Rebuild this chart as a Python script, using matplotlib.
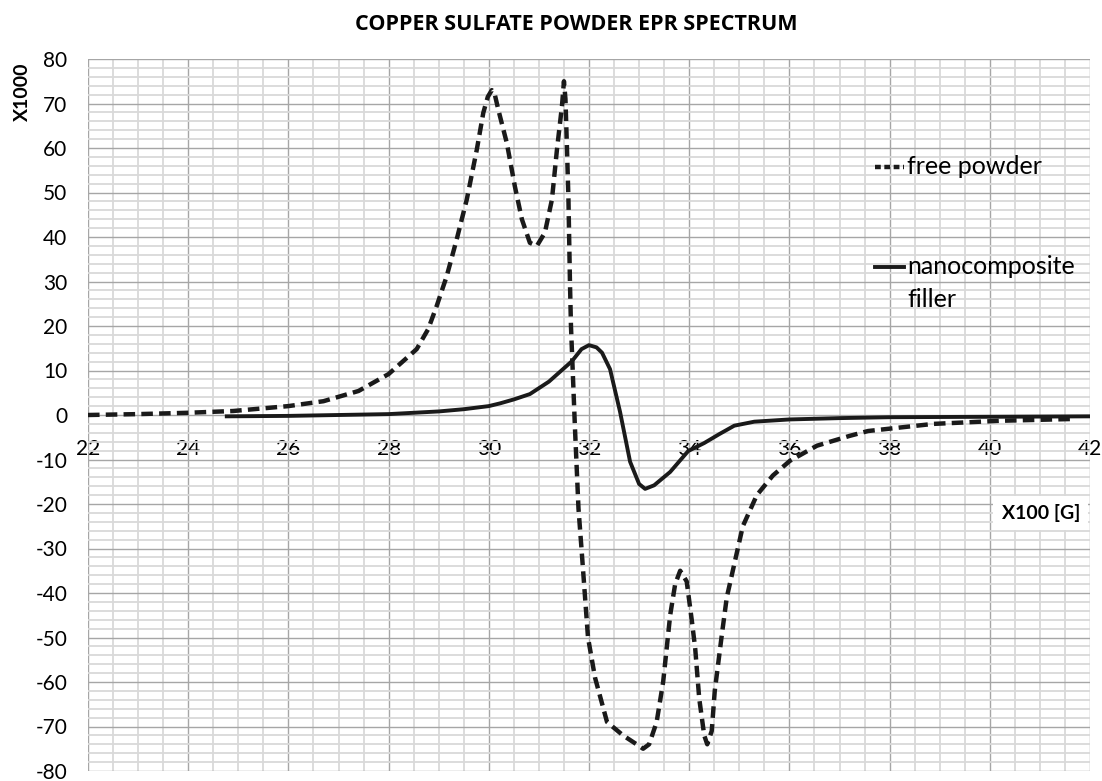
import matplotlib
matplotlib.use("Agg")
import matplotlib.pyplot as plt
from matplotlib.ticker import MultipleLocator
from matplotlib.lines import Line2D

plt.rcParams['font.family'] = ['Lato', 'DejaVu Sans']

title = "COPPER SULFATE POWDER EPR SPECTRUM"
x_label = "X100 [G]"
y_label = "X1000"
series_names = ["free powder", "nanocomposite\nfiller"]

# free powder (dashed)
free_x = [22, 23, 24, 24.9, 26, 26.7, 27.4, 28, 28.56, 28.79, 28.96, 29.16, 29.36, 29.56,
          29.76, 29.89, 29.98, 30.06, 30.12, 30.19, 30.36, 30.52, 30.66, 30.82, 30.96,
          31.12, 31.26, 31.36, 31.46, 31.5, 31.53, 31.56, 31.59, 31.62, 31.64, 31.72,
          31.79, 31.85, 31.98, 32.12, 32.36, 32.68, 32.95, 33.08, 33.2, 33.35, 33.48,
          33.62, 33.72, 33.82, 33.95, 34.05, 34.12, 34.2, 34.3, 34.36, 34.45, 34.51,
          34.65, 34.75, 34.97, 35.07, 35.35, 35.67, 36.01, 36.55, 37.2, 37.57, 38.87,
          40.2, 41.64]
free_y = [0, 0.2, 0.5, 0.9, 2.0, 3.1, 5.4, 9.2, 14.8, 19.3, 24.5, 31.2, 39.5, 48.4,
          59.6, 67.9, 71.5, 73, 72, 68.6, 61.1, 51.4, 44, 38.7, 38,
          41, 48.4, 59.6, 69.4, 75, 71, 60, 48.4, 29.8, 20, -3,
          -21, -30, -50, -59, -69, -72, -74, -75, -74, -69, -60,
          -45, -38, -35, -37.4, -46, -52.5, -63.7, -72, -74, -71, -62,
          -49.5, -41, -30, -25, -18, -13.6, -10.3, -6.9, -4.7, -3.6, -2.0,
          -1.3, -0.9]

# nanocomposite filler (solid)
nano_x = [24.77, 26, 27, 28, 29, 29.5, 30, 30.22, 30.5, 30.82, 31.2, 31.5, 31.66, 31.85,
          32.0, 32.15, 32.26, 32.42, 32.62, 32.82, 33.0, 33.12, 33.3, 33.62, 33.98,
          34.3, 34.6, 34.9, 35.3, 36, 37, 38, 40, 42]
nano_y = [-0.3, -0.2, 0.0, 0.2, 0.8, 1.3, 2.0, 2.6, 3.5, 4.7, 7.5, 10.5, 12.1, 14.8,
          15.7, 15.2, 14.0, 10.3, 0.7, -10.5, -15.5, -16.6, -15.8, -12.8, -8.1,
          -6.3, -4.3, -2.4, -1.5, -1.0, -0.7, -0.5, -0.4, -0.3]

x_ticks = list(range(22, 43, 2))
y_ticks = list(range(-80, 81, 10))

fig = plt.figure(figsize=(11.02, 7.81), dpi=100)
ax = fig.add_axes([88/1102, 10/781, 1002/1102, 712/781])
ax.set_xlim(22, 42)
ax.set_ylim(-80, 80)

ax.xaxis.set_major_locator(MultipleLocator(2))
ax.xaxis.set_minor_locator(MultipleLocator(0.5))
ax.yaxis.set_major_locator(MultipleLocator(10))
ax.yaxis.set_minor_locator(MultipleLocator(2))
ax.grid(which='minor', color='#d9d9d9', lw=1.3, zorder=0)
ax.grid(which='major', color='#a6a6a6', lw=1.0, zorder=0)
ax.set_axisbelow(True)

for s in ax.spines.values():
    s.set_visible(False)
ax.spines['bottom'].set_position(('data', 0))

ax.set_xticks(x_ticks)
ax.set_xticklabels([str(v) for v in x_ticks])
ax.set_yticks(y_ticks)
ax.set_yticklabels([str(v) for v in y_ticks])
ax.tick_params(axis='x', which='both', length=0, pad=17, labelsize=15)
ax.tick_params(axis='y', which='both', length=0, pad=15, labelsize=15)

col = '#1a1a1a'
ax.plot(free_x, free_y, color=col, lw=3.2, dashes=(2.6, 1.4), zorder=3)
ax.plot(nano_x, nano_y, color=col, lw=2.8, zorder=4)

# legend (manual)
ax.add_line(Line2D([0.7855, 0.8145], [0.849, 0.849], transform=ax.transAxes,
                   color=col, lw=3.2, dashes=(1.3, 0.8)))
ax.text(0.8175, 0.849, series_names[0], transform=ax.transAxes, fontsize=18,
        va='center', ha='left')
ax.add_line(Line2D([0.7855, 0.8145], [0.708, 0.708], transform=ax.transAxes,
                   color=col, lw=2.8))
ax.text(0.8175, 0.708, "nanocomposite", transform=ax.transAxes, fontsize=18,
        va='center', ha='left')
ax.text(0.8175, 0.662, "filler", transform=ax.transAxes, fontsize=18,
        va='center', ha='left')

ax.text(41.8, -22, x_label, fontsize=14, fontweight='bold', ha='right', va='center',
        bbox=dict(facecolor='white', edgecolor='none', pad=6), zorder=5)
fig.text(22/1102, 1 - 92/781, y_label, rotation=90, fontsize=14, fontweight='bold',
         ha='center', va='center')
fig.text(576/1102, 1 - 25/781, title, fontsize=15.5, fontweight='bold',
         ha='center', va='center', family=['Open Sans', 'DejaVu Sans'])

fig.savefig("out.png", dpi=100)
